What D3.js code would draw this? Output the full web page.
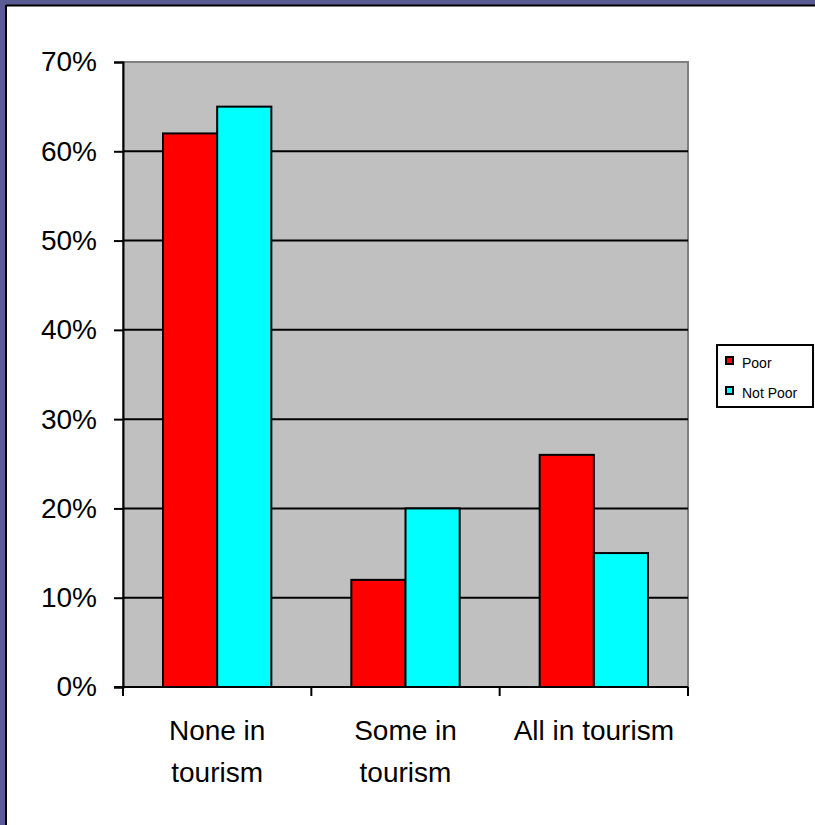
<!DOCTYPE html>
<html>
<head>
<meta charset="utf-8">
<script src="https://cdn.jsdelivr.net/npm/d3@7"></script>
<style>
body { margin: 0; background: #fff; }
svg { display: block; font-family: "Liberation Sans", Arial, sans-serif; }
</style>
</head>
<body>
<div id="chart"></div>
<script>
var categories = [["None in", "tourism"], ["Some in", "tourism"], ["All in tourism"]];
var seriesNames = ["Poor", "Not Poor"];
var poor = [0.62, 0.12, 0.26];
var notPoor = [0.65, 0.20, 0.15];
var yTicks = [0, 0.1, 0.2, 0.3, 0.4, 0.5, 0.6, 0.7];
var colors = ["#ff0000", "#00ffff"];

var W = 815, H = 825;
var plot = {left: 123, right: 688, top: 62, bottom: 687};

var svg = d3.select("#chart")
	.append("svg")
	.attr("width", W)
	.attr("height", H);

// frame
svg.append("rect").attr("width", W).attr("height", H).attr("fill", "#fff");
svg.append("rect").attr("x", 0).attr("y", 0).attr("width", W).attr("height", 5).attr("fill", "#5b5b94");
svg.append("rect").attr("x", 0).attr("y", 0).attr("width", 5).attr("height", H).attr("fill", "#5b5b94");
svg.append("line").attr("x1", 6).attr("x2", W).attr("y1", 5.5).attr("y2", 5.5).attr("stroke", "#000").attr("stroke-width", 2);
svg.append("line").attr("x1", 6).attr("x2", 6).attr("y1", 5).attr("y2", H).attr("stroke", "#000").attr("stroke-width", 2);

var idx = d3.range(categories.length);

var x = d3.scaleBand()
	.domain(idx)
	.range([plot.left, plot.right]);

var xs = d3.scaleBand()
	.domain(seriesNames)
	.range([40, x.bandwidth() - 40]);

var y = d3.scaleLinear()
	.domain([0, 0.7])
	.range([plot.bottom, plot.top]);

// plot area
svg.append("rect")
	.attr("x", plot.left).attr("y", plot.top)
	.attr("width", plot.right - plot.left).attr("height", plot.bottom - plot.top)
	.attr("fill", "#c0c0c0")
	.attr("stroke", "#808080")
	.attr("stroke-width", 2);

// gridlines
svg.append("g")
	.selectAll("line")
	.data(yTicks.slice(1, -1))
	.join("line")
	.attr("x1", plot.left).attr("x2", plot.right)
	.attr("y1", d => y(d)).attr("y2", d => y(d))
	.attr("stroke", "#000")
	.attr("stroke-width", 2);

var data = idx.map(i => [poor[i], notPoor[i]]);

svg.append("g")
	.selectAll("g")
	.data(data)
	.join("g")
	.attr("transform", (d, i) => "translate(" + x(i) + ",0)")
	.selectAll("rect")
	.data(d => d)
	.join("rect")
	.attr("x", (d, j) => xs(seriesNames[j]))
	.attr("y", d => y(d))
	.attr("width", xs.bandwidth())
	.attr("height", d => y(0) - y(d))
	.attr("fill", (d, j) => colors[j])
	.attr("stroke", "#000")
	.attr("stroke-width", 2);

// y axis
var yAxis = g => g.attr("transform", "translate(" + plot.left + ",0)")
	.call(d3.axisLeft(y).tickValues(yTicks).tickFormat(d3.format(".0%")).tickSize(9).tickPadding(17))
	.call(g => g.selectAll("path,line").attr("stroke", "#000").attr("stroke-width", 2))
	.call(g => g.selectAll("text").attr("font-size", 28).attr("fill", "#000").attr("font-family", "Liberation Sans, Arial, sans-serif"));
svg.append("g").call(yAxis);

// x axis line and ticks
svg.append("line")
	.attr("x1", plot.left - 9).attr("x2", plot.right)
	.attr("y1", plot.bottom).attr("y2", plot.bottom)
	.attr("stroke", "#000").attr("stroke-width", 2);
var boundaries = idx.map(i => x(i)).concat([plot.right]);
svg.append("g")
	.selectAll("line")
	.data(boundaries)
	.join("line")
	.attr("x1", d => d).attr("x2", d => d)
	.attr("y1", plot.bottom).attr("y2", plot.bottom + 9)
	.attr("stroke", "#000").attr("stroke-width", 2);

svg.append("g")
	.selectAll("text")
	.data(categories)
	.join("text")
	.attr("x", (d, i) => x(i) + x.bandwidth() / 2)
	.attr("y", 740)
	.attr("text-anchor", "middle")
	.attr("font-size", 28)
	.attr("fill", "#000")
	.selectAll("tspan")
	.data(d => d)
	.join("tspan")
	.attr("x", function () { return d3.select(this.parentNode).attr("x"); })
	.attr("dy", (d, k) => k === 0 ? 0 : 42)
	.text(d => d);

// legend
var legend = svg.append("g").attr("transform", "translate(717,345)");
legend.append("rect")
	.attr("width", 96).attr("height", 62)
	.attr("fill", "#fff").attr("stroke", "#000").attr("stroke-width", 2);
var items = legend.selectAll("g")
	.data(seriesNames)
	.join("g")
	.attr("transform", (d, i) => "translate(9," + (12 + i * 30) + ")");
items.append("rect")
	.attr("width", 7).attr("height", 7)
	.attr("fill", (d, i) => colors[i])
	.attr("stroke", "#000").attr("stroke-width", 2);
items.append("text")
	.attr("x", 16).attr("y", 11)
	.attr("font-size", 14)
	.attr("fill", "#000")
	.text(d => d);
</script>
</body>
</html>
